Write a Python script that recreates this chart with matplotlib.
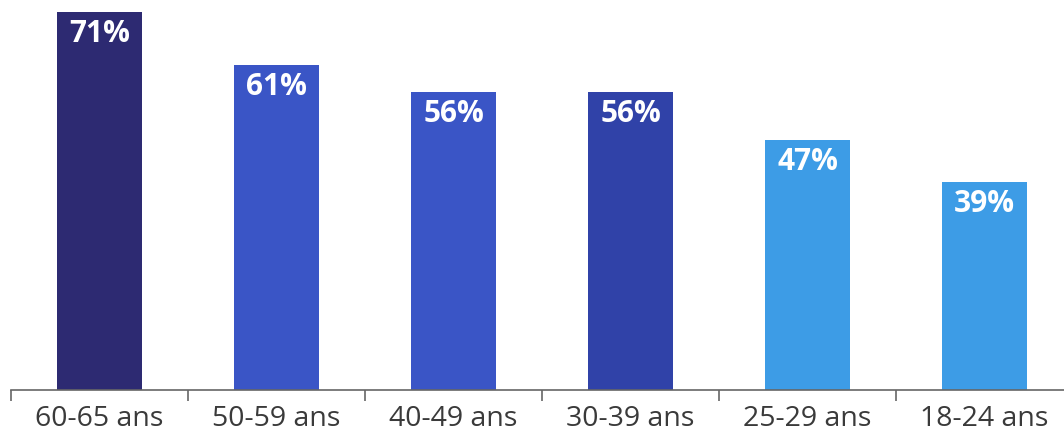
import matplotlib.pyplot as plt
import numpy as np

categories = ["60-65 ans", "50-59 ans", "40-49 ans", "30-39 ans", "25-29 ans", "18-24 ans"]
values = [71, 61, 56, 56, 47, 39]
colors = ["#2d2a72", "#3a55c6", "#3a55c6", "#3042a8", "#3d9ce6", "#3d9ce6"]

fig = plt.figure(figsize=(10.64, 4.36), dpi=100)
ax = fig.add_axes([11 / 1064, 46 / 436, 1062 / 1064, 390 / 436])

x = np.arange(len(categories))
bars = ax.bar(x, values, width=0.475, color=colors)

for xi, v in zip(x, values):
    ax.annotate(f"{v}%", (xi, v), xytext=(0, -7), textcoords="offset pixels",
                ha="center", va="top", color="white", fontsize=21.5,
                fontweight="bold", family="Open Sans")

ax.set_xlim(-0.5, 5.5)
ax.set_ylim(0, 73.3)

for s in ["top", "right", "left"]:
    ax.spines[s].set_visible(False)
ax.spines["bottom"].set_color("#666666")
ax.spines["bottom"].set_linewidth(1.2)

ax.set_yticks([])
ax.set_xticks(x)
ax.set_xticklabels(categories, fontsize=20.5, color="#3a3a3a", family="Open Sans")
ax.tick_params(axis="x", which="major", length=0, pad=11)
ax.set_xticks(np.arange(-0.5, 5.6, 1), minor=True)
ax.tick_params(axis="x", which="minor", length=8, width=1.2, color="#666666")

fig.savefig("out.png", dpi=100)
